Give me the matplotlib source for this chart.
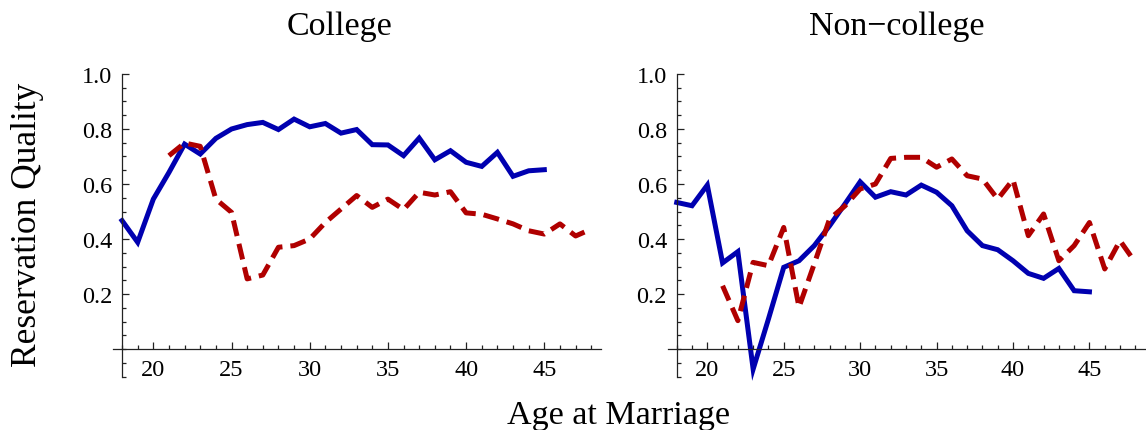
import numpy as np
import matplotlib
matplotlib.use('Agg')
import matplotlib.pyplot as plt
from matplotlib.ticker import MultipleLocator, FixedLocator

plt.rcParams['font.family'] = ['Liberation Serif', 'DejaVu Serif']

# Reservation quality by age at marriage
college_age_solid = np.arange(18, 46)
college_solid = [0.467, 0.388, 0.545, 0.642, 0.745, 0.709, 0.766, 0.800, 0.816, 0.824,
                 0.798, 0.836, 0.808, 0.820, 0.785, 0.798, 0.743, 0.742, 0.703, 0.767,
                 0.688, 0.721, 0.679, 0.664, 0.715, 0.628, 0.648, 0.652]
college_age_dash = np.arange(21, 49)
college_dash = [0.703, 0.749, 0.737, 0.545, 0.497, 0.255, 0.269, 0.370, 0.376, 0.400,
                0.460, 0.509, 0.558, 0.515, 0.545, 0.507, 0.570, 0.560, 0.572, 0.495,
                0.490, 0.473, 0.455, 0.430, 0.418, 0.455, 0.411, 0.436]

noncollege_age_solid = np.arange(18, 46)
noncollege_solid = [0.533, 0.521, 0.596, 0.313, 0.354, -0.073, 0.109, 0.297, 0.321, 0.376,
                    0.448, 0.527, 0.608, 0.552, 0.572, 0.560, 0.596, 0.570, 0.521, 0.430,
                    0.376, 0.361, 0.321, 0.275, 0.257, 0.293, 0.212, 0.208]
noncollege_age_dash = np.arange(21, 49)
noncollege_dash = [0.230, 0.103, 0.315, 0.303, 0.442, 0.152, 0.310, 0.473, 0.520, 0.582,
                   0.600, 0.693, 0.697, 0.697, 0.661, 0.691, 0.630, 0.618, 0.545, 0.616,
                   0.412, 0.491, 0.321, 0.376, 0.460, 0.291, 0.394, 0.315]

panel_titles = ['College', 'Non\u2212college']

blue = '#0000b0'
red = '#b00000'

fig = plt.figure(figsize=(11.46, 4.31), dpi=100)
ax1 = fig.add_axes([0.0983, 0.1241, 0.4258, 0.7019])
ax2 = fig.add_axes([0.5825, 0.1241, 0.4175, 0.7019])

panels = [
    (ax1, college_age_solid, college_solid, college_age_dash, college_dash, (17.4, 48.6)),
    (ax2, noncollege_age_solid, noncollege_solid, noncollege_age_dash, noncollege_dash, (17.4, 48.7)),
]

for ax, xs, ys, xd, yd, xlim in panels:
    ax.plot(xs, ys, color=blue, lw=3.6, solid_joinstyle='miter', clip_on=False)
    ax.plot(xd, yd, color=red, lw=3.6, dashes=(3.2, 1.6), dash_capstyle='butt')
    ax.set_xlim(*xlim)
    ax.set_ylim(-0.1, 1.0)

    ax.spines['top'].set_visible(False)
    ax.spines['right'].set_visible(False)
    ax.spines['left'].set_position(('data', 18))
    ax.spines['bottom'].set_position(('data', 0))
    for s in ('left', 'bottom'):
        ax.spines[s].set_linewidth(0.9)
        ax.spines[s].set_color('#222222')

    ax.xaxis.set_major_locator(FixedLocator([20, 25, 30, 35, 40, 45]))
    ax.xaxis.set_minor_locator(FixedLocator(np.arange(18, 49)))
    ax.yaxis.set_major_locator(FixedLocator([0.2, 0.4, 0.6, 0.8, 1.0]))
    ax.yaxis.set_minor_locator(MultipleLocator(0.05))
    ax.set_yticklabels(['0.2', '0.4', '0.6', '0.8', '1.0'])

    ax.tick_params(which='both', direction='in', color='#222222', width=0.9)
    ax.tick_params(which='major', length=5, labelsize=17.5)
    ax.tick_params(which='minor', length=3)
    ax.tick_params(axis='x', which='major', pad=7)
    ax.tick_params(axis='y', which='major', pad=7)
    ax.patch.set_visible(False)

fig.text(340 / 1146, 1 - 27 / 431, panel_titles[0], ha='center', va='center', fontsize=24.5)
fig.text(896.7 / 1146, 1 - 27 / 431, panel_titles[1], ha='center', va='center', fontsize=24.5)
fig.text(618.5 / 1146, 1 - 416 / 431, 'Age at Marriage', ha='center', va='center', fontsize=24.5)
fig.text(28 / 1146, 1 - 225 / 431, 'Reservation Quality', ha='center', va='center',
         rotation=90, fontsize=25.5)

fig.savefig('out.png', dpi=100)
